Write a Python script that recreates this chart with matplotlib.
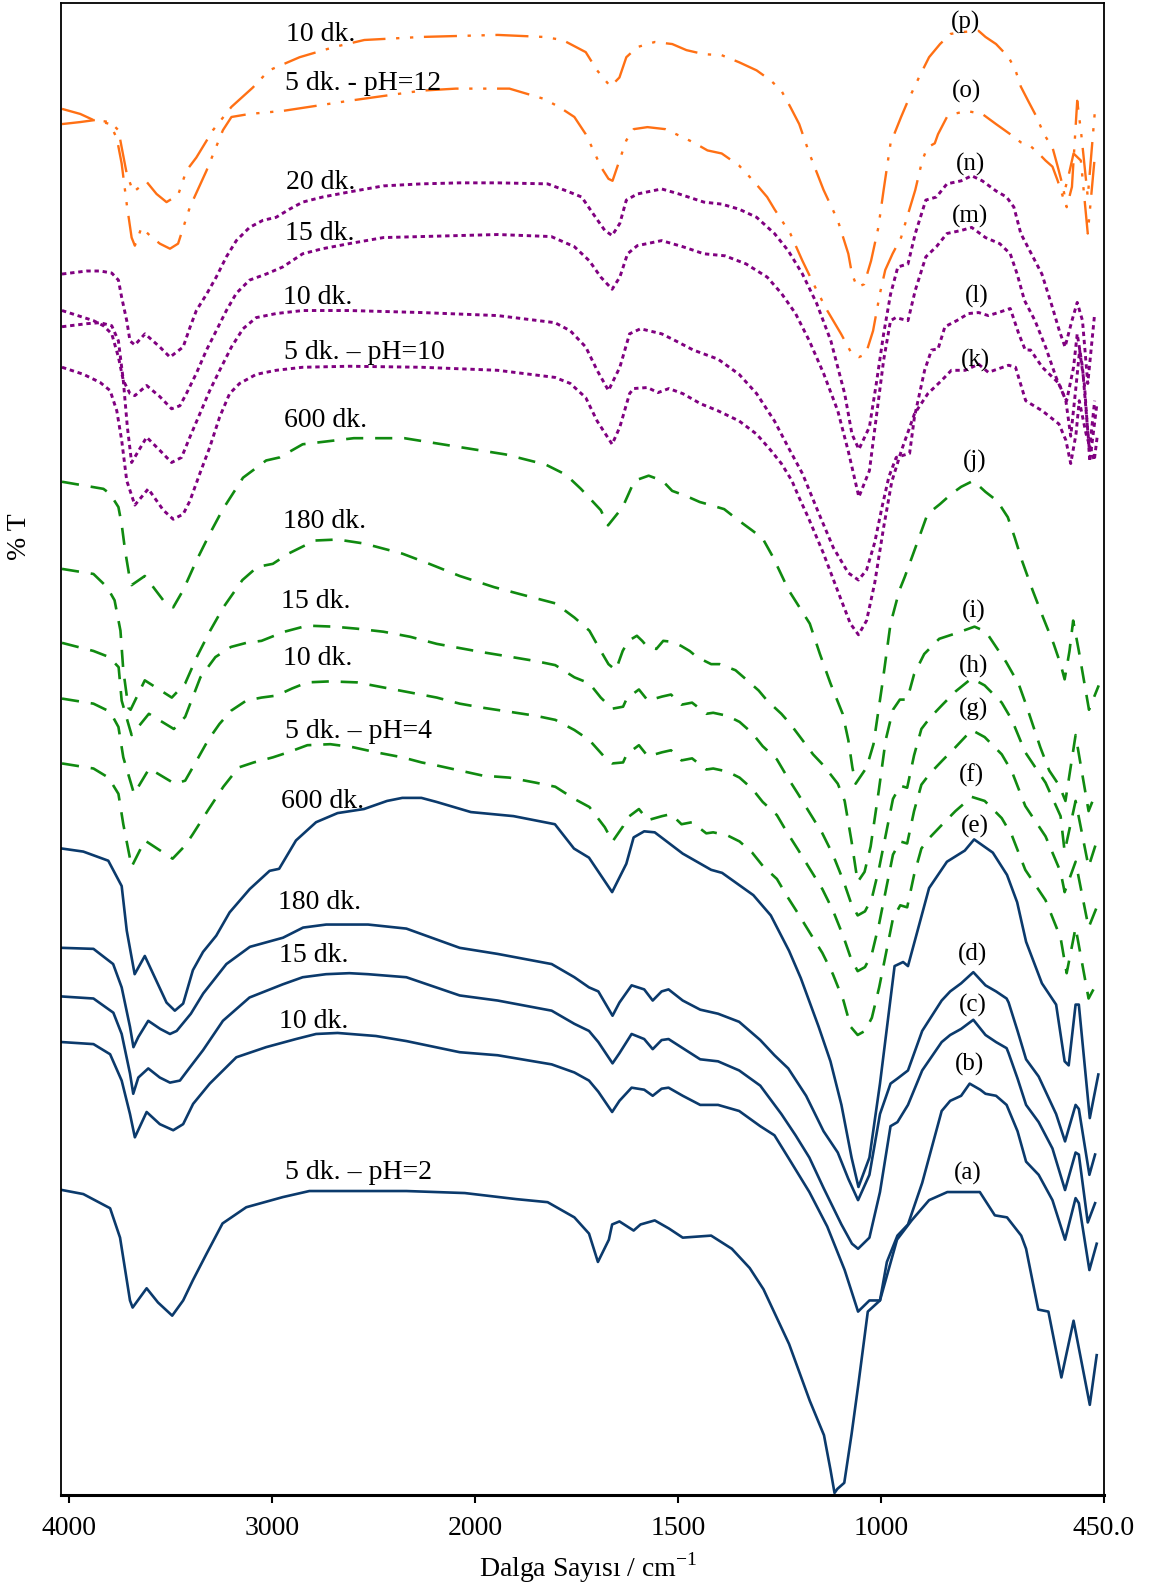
import numpy as np
import matplotlib
matplotlib.use('Agg')
import matplotlib.pyplot as plt
from matplotlib.ticker import NullLocator

plt.rcParams['font.family'] = ['Liberation Serif', 'DejaVu Serif']
plt.rcParams['mathtext.fontset'] = 'custom'
plt.rcParams['mathtext.rm'] = 'Liberation Serif'

# ---------------- data: wavenumber (cm-1) and offset %T (arbitrary units) ----------------
wn_a = [4035, 3930, 3798, 3749, 3700, 3687, 3618, 3562, 3492, 3438, 3390, 3323, 3244, 3127, 2947, 2816, 2619, 2338, 2050, 1898, 1821, 1755, 1719, 1697, 1670, 1662, 1644, 1609, 1592, 1557, 1522, 1488, 1418, 1367, 1323, 1289, 1226, 1175, 1140, 1124, 1114, 1107, 1090, 1072, 1055, 1032, 1002, 960, 924, 881, 836, 756, 719, 689, 654, 642, 612, 587, 555, 525, 485, 468]
t_a = [301, 297, 283, 254, 192, 185, 204, 190, 177, 192, 212, 238, 268, 284, 294, 300, 300, 300, 298, 292, 289, 274, 258, 230, 252, 267, 270, 261, 267, 271, 263, 254, 256, 243, 224, 203, 149, 93, 59, 25, 2, 6, 12, 60, 110, 181, 192, 252, 271, 291, 299, 299, 276, 274, 256, 243, 183, 181, 116, 172, 89, 138]

wn_b = [4035, 3880, 3798, 3741, 3700, 3676, 3618, 3553, 3487, 3438, 3389, 3307, 3176, 3029, 2882, 2783, 2677, 2488, 2338, 2075, 1944, 1811, 1755, 1719, 1696, 1662, 1644, 1614, 1583, 1562, 1540, 1523, 1488, 1445, 1401, 1349, 1297, 1262, 1228, 1176, 1132, 1089, 1056, 1028, 1002, 985, 959, 933, 898, 850, 829, 802, 781, 755, 742, 716, 690, 663, 642, 611, 577, 546, 520, 512, 486, 468]
t_b = [447, 445, 435, 409, 376, 353, 378, 366, 360, 366, 386, 406, 432, 442, 450, 455, 456, 453, 448, 437, 434, 425, 417, 409, 398, 378, 389, 402, 400, 394, 401, 402, 394, 385, 385, 379, 364, 355, 333, 299, 265, 222, 181, 192, 192, 230, 256, 267, 308, 379, 389, 394, 406, 400, 396, 394, 385, 359, 329, 316, 291, 252, 293, 288, 222, 248]

wn_c = [4035, 3880, 3782, 3741, 3700, 3684, 3659, 3610, 3553, 3503, 3454, 3405, 3340, 3242, 3111, 2947, 2849, 2734, 2619, 2527, 2338, 2075, 1944, 1811, 1755, 1719, 1696, 1661, 1644, 1614, 1583, 1562, 1540, 1523, 1488, 1445, 1401, 1349, 1297, 1245, 1210, 1176, 1141, 1097, 1071, 1056, 1028, 1002, 976, 959, 933, 898, 850, 829, 802, 772, 742, 716, 690, 685, 663, 642, 611, 577, 546, 520, 512, 490, 472]
t_c = [492, 490, 476, 455, 416, 396, 412, 421, 412, 407, 409, 422, 439, 468, 491, 504, 511, 514, 515, 514, 511, 493, 488, 478, 465, 458, 447, 426, 436, 455, 450, 440, 449, 450, 441, 430, 428, 419, 404, 376, 355, 333, 303, 267, 248, 243, 254, 299, 364, 368, 385, 419, 447, 454, 460, 469, 454, 447, 441, 436, 411, 385, 368, 342, 301, 338, 336, 269, 288]

wn_d = [4035, 3880, 3783, 3741, 3700, 3683, 3659, 3610, 3551, 3503, 3470, 3400, 3339, 3225, 3109, 2946, 2847, 2733, 2619, 2527, 2338, 2075, 1944, 1811, 1755, 1719, 1696, 1661, 1644, 1614, 1583, 1562, 1540, 1523, 1488, 1445, 1401, 1349, 1297, 1262, 1228, 1184, 1141, 1106, 1080, 1056, 1028, 1002, 976, 959, 933, 898, 850, 829, 802, 772, 742, 716, 690, 685, 663, 642, 611, 568, 546, 520, 512, 486, 472]
t_d = [540, 539, 524, 501, 462, 442, 452, 468, 460, 455, 458, 475, 495, 524, 541, 550, 560, 563, 563, 563, 559, 540, 534, 524, 511, 501, 497, 473, 486, 503, 499, 488, 497, 499, 488, 479, 475, 467, 449, 434, 421, 394, 359, 338, 312, 291, 316, 376, 406, 411, 419, 458, 488, 497, 505, 516, 503, 497, 490, 486, 458, 430, 413, 376, 349, 385, 381, 316, 336]

wn_e = [4035, 3930, 3807, 3741, 3716, 3677, 3627, 3520, 3479, 3438, 3390, 3340, 3275, 3209, 3110, 3012, 2965, 2882, 2783, 2677, 2547, 2433, 2358, 2264, 2189, 2020, 1905, 1803, 1756, 1719, 1662, 1627, 1609, 1583, 1557, 1488, 1418, 1391, 1314, 1271, 1226, 1197, 1153, 1124, 1097, 1072, 1055, 1028, 1002, 966, 945, 933, 881, 837, 793, 770, 724, 689, 664, 642, 603, 568, 547, 537, 520, 512, 485, 464]
t_e = [638, 635, 626, 601, 557, 514, 532, 486, 478, 485, 518, 536, 552, 575, 598, 616, 618, 646, 664, 673, 677, 685, 688, 688, 684, 674, 670, 662, 638, 629, 595, 623, 649, 655, 654, 633, 617, 614, 592, 572, 537, 510, 462, 428, 385, 333, 304, 333, 406, 522, 526, 522, 599, 625, 636, 647, 634, 612, 585, 546, 505, 484, 428, 424, 484, 484, 372, 415]

wn_f = [4035, 3880, 3806, 3757, 3733, 3692, 3627, 3490, 3428, 3391, 3315, 3240, 3165, 3090, 2996, 2920, 2826, 2713, 2601, 2488, 2357, 2263, 2188, 2075, 1981, 1915, 1850, 1802, 1755, 1718, 1680, 1661, 1635, 1626, 1596, 1574, 1539, 1517, 1491, 1465, 1430, 1413, 1378, 1348, 1317, 1291, 1256, 1231, 1204, 1178, 1144, 1118, 1092, 1074, 1057, 1039, 1022, 1004, 987, 970, 952, 935, 918, 900, 879, 848, 816, 776, 744, 702, 677, 644, 594, 557, 542, 520, 488, 468]
t_f = [722, 717, 708, 692, 662, 620, 646, 628, 641, 652, 676, 699, 718, 723, 728, 733, 740, 741, 738, 733, 728, 723, 720, 715, 710, 708, 703, 699, 687, 679, 659, 645, 660, 668, 677, 666, 670, 672, 662, 664, 653, 654, 651, 645, 634, 621, 608, 591, 574, 557, 535, 514, 488, 462, 454, 458, 471, 501, 535, 569, 582, 580, 612, 638, 649, 662, 675, 689, 685, 668, 651, 617, 587, 550, 515, 560, 490, 505]

wn_g = [4035, 3880, 3798, 3757, 3733, 3680, 3605, 3480, 3428, 3371, 3315, 3259, 3202, 3127, 3052, 2977, 2901, 2826, 2713, 2582, 2451, 2319, 2188, 2075, 1981, 1915, 1850, 1802, 1755, 1718, 1680, 1662, 1635, 1626, 1596, 1574, 1539, 1517, 1491, 1465, 1430, 1413, 1378, 1348, 1317, 1291, 1256, 1231, 1204, 1178, 1144, 1118, 1092, 1074, 1057, 1039, 1022, 1004, 987, 970, 952, 935, 918, 900, 879, 848, 816, 776, 744, 702, 677, 644, 594, 557, 547, 520, 488, 468]
t_g = [786, 781, 773, 758, 728, 692, 717, 702, 705, 725, 745, 761, 774, 784, 787, 789, 796, 802, 803, 802, 797, 792, 787, 781, 777, 773, 769, 765, 755, 745, 728, 722, 723, 731, 740, 729, 733, 735, 725, 727, 716, 717, 714, 708, 697, 684, 671, 654, 637, 620, 598, 577, 551, 530, 517, 521, 534, 564, 598, 632, 645, 643, 675, 701, 712, 725, 738, 755, 748, 731, 714, 680, 650, 615, 595, 625, 560, 580]

wn_h = [4035, 3880, 3803, 3756, 3741, 3708, 3692, 3607, 3484, 3428, 3353, 3279, 3202, 3127, 3052, 2939, 2826, 2695, 2582, 2451, 2319, 2188, 1985, 1924, 1850, 1802, 1755, 1718, 1690, 1662, 1635, 1626, 1596, 1574, 1539, 1517, 1491, 1465, 1430, 1413, 1378, 1348, 1317, 1291, 1256, 1231, 1204, 1178, 1144, 1118, 1092, 1074, 1057, 1039, 1022, 1004, 987, 970, 952, 935, 918, 900, 879, 848, 816, 776, 744, 702, 677, 644, 594, 557, 547, 520, 488, 468]
t_h = [841, 833, 827, 817, 784, 761, 750, 771, 756, 768, 807, 827, 837, 841, 843, 852, 858, 857, 855, 852, 847, 840, 832, 828, 823, 819, 807, 801, 787, 776, 778, 786, 795, 784, 788, 790, 780, 782, 771, 772, 769, 763, 752, 739, 726, 709, 692, 675, 653, 632, 606, 585, 572, 576, 589, 619, 653, 687, 700, 698, 730, 756, 767, 780, 793, 806, 799, 782, 765, 733, 703, 670, 635, 685, 620, 645]

wn_i = [4035, 3880, 3813, 3776, 3747, 3733, 3708, 3697, 3627, 3494, 3428, 3371, 3305, 3240, 3146, 3072, 2996, 2920, 2789, 2677, 2545, 2357, 2225, 2075, 1953, 1888, 1802, 1755, 1718, 1690, 1671, 1653, 1636, 1622, 1601, 1588, 1575, 1553, 1536, 1514, 1492, 1471, 1453, 1418, 1397, 1358, 1332, 1301, 1280, 1245, 1223, 1193, 1167, 1141, 1106, 1089, 1072, 1057, 1040, 1025, 1005, 988, 970, 953, 935, 918, 893, 856, 818, 769, 741, 716, 691, 674, 659, 642, 607, 585, 560, 545, 520, 488, 468]
t_i = [914, 909, 896, 883, 853, 814, 777, 775, 804, 787, 801, 827, 853, 876, 903, 916, 919, 929, 942, 943, 939, 929, 919, 907, 896, 889, 880, 866, 853, 833, 820, 814, 833, 843, 848, 843, 837, 835, 843, 842, 838, 833, 827, 820, 820, 814, 805, 794, 784, 771, 761, 745, 731, 720, 702, 685, 645, 605, 615, 640, 695, 745, 775, 785, 785, 810, 830, 845, 850, 857, 852, 837, 822, 810, 799, 780, 738, 715, 700, 685, 750, 675, 695]

wn_j = [4035, 3831, 3798, 3757, 3741, 3724, 3700, 3692, 3627, 3536, 3487, 3438, 3373, 3306, 3242, 3143, 3029, 2963, 2849, 2597, 2348, 2100, 1925, 1826, 1776, 1739, 1690, 1672, 1636, 1607, 1572, 1538, 1514, 1480, 1446, 1428, 1386, 1351, 1317, 1291, 1266, 1227, 1175, 1150, 1124, 1094, 1080, 1070, 1062, 1035, 1018, 996, 976, 954, 941, 911, 885, 854, 826, 802, 772, 742, 713, 687, 670, 652, 626, 600, 574, 557, 547, 535, 526, 512, 487, 463]
t_j = [1000, 993, 988, 975, 958, 932, 903, 898, 907, 883, 876, 893, 922, 949, 973, 1004, 1021, 1024, 1037, 1043, 1043, 1035, 1027, 1017, 1007, 993, 972, 957, 975, 1001, 1006, 1001, 991, 986, 980, 978, 973, 962, 952, 944, 926, 893, 860, 830, 801, 771, 745, 718, 702, 718, 741, 801, 860, 893, 906, 939, 968, 978, 988, 995, 1001, 990, 981, 965, 945, 922, 893, 866, 840, 820, 805, 833, 863, 833, 775, 799]

wn_k = [4035, 3929, 3847, 3798, 3765, 3741, 3716, 3676, 3610, 3536, 3487, 3438, 3405, 3356, 3307, 3258, 3209, 3160, 3078, 2980, 2849, 2620, 2263, 1944, 1803, 1765, 1727, 1699, 1662, 1643, 1619, 1609, 1575, 1549, 1522, 1488, 1444, 1401, 1349, 1306, 1271, 1245, 1219, 1202, 1179, 1142, 1104, 1075, 1055, 1035, 1015, 993, 973, 949, 917, 884, 850, 826, 792, 759, 735, 685, 668, 643, 631, 602, 561, 544, 532, 519, 511, 494, 474, 466]
t_k = [1113, 1106, 1098, 1090, 1070, 1041, 1001, 977, 993, 972, 963, 968, 981, 1008, 1034, 1064, 1087, 1097, 1106, 1110, 1113, 1114, 1113, 1110, 1103, 1097, 1083, 1060, 1037, 1054, 1087, 1092, 1093, 1088, 1092, 1087, 1077, 1070, 1060, 1047, 1031, 1018, 1001, 985, 965, 930, 890, 860, 849, 863, 900, 955, 1000, 1031, 1067, 1087, 1100, 1110, 1110, 1116, 1108, 1115, 1113, 1080, 1077, 1070, 1057, 1041, 1018, 1047, 1080, 1047, 1021, 1047]

wn_l = [4035, 3913, 3847, 3790, 3757, 3733, 3713, 3692, 3618, 3553, 3495, 3446, 3405, 3356, 3307, 3258, 3200, 3143, 3078, 2980, 2849, 2620, 2263, 1944, 1803, 1765, 1727, 1699, 1671, 1643, 1619, 1592, 1540, 1505, 1462, 1401, 1349, 1306, 1262, 1228, 1193, 1154, 1117, 1080, 1055, 1035, 1015, 997, 980, 962, 929, 917, 892, 875, 859, 842, 813, 784, 759, 735, 710, 681, 660, 644, 631, 602, 561, 544, 532, 520, 510, 498, 485, 468]
t_l = [1153, 1156, 1157, 1154, 1139, 1100, 1054, 1019, 1044, 1031, 1019, 1024, 1044, 1067, 1090, 1110, 1133, 1151, 1162, 1166, 1169, 1169, 1167, 1164, 1157, 1149, 1133, 1110, 1090, 1113, 1146, 1151, 1146, 1139, 1130, 1121, 1106, 1087, 1060, 1034, 1008, 970, 935, 910, 903, 913, 940, 975, 1005, 1024, 1028, 1064, 1110, 1130, 1131, 1153, 1159, 1166, 1167, 1164, 1167, 1171, 1146, 1130, 1130, 1113, 1097, 1080, 1045, 1090, 1130, 1095, 1020, 1075]

wn_m = [4035, 3880, 3831, 3790, 3757, 3733, 3700, 3676, 3618, 3553, 3495, 3454, 3422, 3373, 3323, 3275, 3225, 3176, 3111, 3029, 2947, 2849, 2751, 2620, 2451, 2263, 2075, 1944, 1812, 1755, 1718, 1690, 1662, 1643, 1624, 1600, 1540, 1488, 1436, 1384, 1332, 1280, 1245, 1210, 1176, 1141, 1106, 1080, 1054, 1028, 1011, 993, 976, 963, 933, 915, 889, 863, 837, 802, 776, 742, 707, 681, 664, 646, 620, 594, 568, 551, 542, 525, 516, 503, 486, 473]
t_m = [1169, 1159, 1154, 1146, 1123, 1100, 1087, 1085, 1095, 1084, 1072, 1075, 1087, 1107, 1130, 1149, 1169, 1186, 1199, 1205, 1212, 1225, 1230, 1235, 1241, 1242, 1243, 1244, 1242, 1232, 1218, 1202, 1190, 1202, 1225, 1233, 1238, 1232, 1225, 1223, 1215, 1202, 1186, 1166, 1139, 1107, 1070, 1030, 985, 1011, 1064, 1120, 1159, 1162, 1159, 1189, 1222, 1232, 1245, 1248, 1251, 1241, 1235, 1225, 1205, 1179, 1159, 1133, 1103, 1087, 1080, 1113, 1146, 1113, 1031, 1080]

wn_n = [4035, 3913, 3847, 3790, 3757, 3741, 3716, 3700, 3676, 3626, 3553, 3503, 3438, 3405, 3373, 3323, 3275, 3225, 3176, 3111, 3045, 2980, 2914, 2849, 2751, 2620, 2451, 2263, 2075, 1944, 1821, 1774, 1737, 1708, 1680, 1662, 1643, 1627, 1600, 1540, 1497, 1436, 1392, 1349, 1306, 1262, 1228, 1193, 1158, 1123, 1089, 1071, 1054, 1028, 1011, 993, 976, 958, 933, 915, 889, 863, 837, 802, 776, 750, 716, 690, 672, 655, 629, 603, 577, 560, 546, 529, 516, 503, 490, 473]
t_n = [1205, 1208, 1208, 1206, 1199, 1182, 1159, 1139, 1135, 1146, 1133, 1123, 1133, 1152, 1169, 1185, 1202, 1222, 1238, 1251, 1258, 1261, 1269, 1276, 1281, 1286, 1292, 1294, 1295, 1295, 1294, 1287, 1281, 1264, 1248, 1243, 1255, 1278, 1284, 1289, 1284, 1276, 1274, 1269, 1261, 1245, 1228, 1205, 1176, 1139, 1087, 1047, 1032, 1054, 1097, 1146, 1185, 1212, 1215, 1245, 1278, 1281, 1294, 1297, 1302, 1297, 1287, 1281, 1271, 1245, 1225, 1205, 1172, 1149, 1133, 1159, 1177, 1159, 1097, 1166]

wn_o = [4035, 3945, 3872, 3798, 3765, 3741, 3716, 3692, 3676, 3643, 3602, 3553, 3503, 3463, 3405, 3323, 3242, 3200, 3111, 2947, 2783, 2620, 2263, 2094, 1962, 1915, 1831, 1793, 1755, 1727, 1708, 1690, 1671, 1661, 1644, 1627, 1609, 1575, 1531, 1488, 1462, 1427, 1392, 1349, 1314, 1280, 1262, 1223, 1193, 1158, 1132, 1098, 1071, 1054, 1037, 1019, 1002, 989, 971, 950, 933, 915, 898, 885, 867, 859, 837, 820, 789, 750, 716, 681, 655, 633, 611, 594, 577, 564, 551, 538, 525, 507, 490, 472]
t_o = [1353, 1355, 1357, 1353, 1339, 1314, 1274, 1241, 1233, 1251, 1243, 1235, 1230, 1235, 1271, 1307, 1347, 1360, 1363, 1366, 1371, 1376, 1386, 1388, 1388, 1388, 1378, 1370, 1360, 1343, 1327, 1311, 1299, 1297, 1317, 1337, 1348, 1350, 1348, 1340, 1335, 1327, 1324, 1312, 1297, 1281, 1269, 1245, 1218, 1189, 1169, 1146, 1126, 1123, 1126, 1149, 1186, 1209, 1225, 1241, 1264, 1288, 1317, 1330, 1334, 1343, 1360, 1363, 1366, 1363, 1353, 1343, 1335, 1332, 1324, 1317, 1311, 1297, 1281, 1301, 1324, 1317, 1245, 1324]

wn_p = [4035, 3945, 3880, 3798, 3757, 3741, 3716, 3684, 3618, 3569, 3520, 3463, 3422, 3373, 3291, 3200, 3095, 3015, 2864, 2695, 2545, 2263, 1944, 1831, 1784, 1727, 1699, 1666, 1644, 1627, 1600, 1557, 1514, 1479, 1436, 1392, 1349, 1306, 1271, 1245, 1223, 1201, 1176, 1141, 1106, 1080, 1071, 1058, 1041, 1024, 1006, 993, 976, 950, 933, 906, 881, 854, 828, 794, 759, 742, 716, 685, 668, 655, 637, 616, 598, 577, 564, 551, 542, 529, 516, 506, 490, 473]
t_p = [1368, 1363, 1357, 1355, 1347, 1330, 1304, 1286, 1296, 1284, 1276, 1283, 1307, 1320, 1347, 1370, 1389, 1406, 1419, 1429, 1436, 1439, 1441, 1439, 1436, 1424, 1406, 1390, 1399, 1419, 1429, 1434, 1432, 1426, 1422, 1421, 1414, 1406, 1396, 1386, 1370, 1353, 1324, 1288, 1258, 1225, 1205, 1192, 1195, 1218, 1251, 1288, 1334, 1360, 1376, 1399, 1419, 1432, 1442, 1444, 1445, 1439, 1432, 1419, 1406, 1390, 1376, 1360, 1343, 1330, 1311, 1291, 1271, 1291, 1376, 1343, 1281, 1363]

letters = ['(a)', '(b)', '(c)', '(d)', '(e)', '(f)', '(g)', '(h)', '(i)', '(j)', '(k)', '(l)', '(m)', '(n)', '(o)', '(p)']
times = ['5 dk. \u2013 pH=2', '10 dk.', '15 dk.', '180 dk.', '600 dk.',
         '5 dk. \u2013 pH=4', '10 dk.', '15 dk.', '180 dk.', '600 dk.',
         '5 dk. \u2013 pH=10', '10 dk.', '15 dk.', '20 dk.',
         '5 dk. - pH=12', '10 dk.']
tick_vals = [4000, 3000, 2000, 1500, 1000, 450]
tick_labels = ['4000', '3000', '2000', '1500', '1000', '450.0']

series = [(wn_a, t_a), (wn_b, t_b), (wn_c, t_c), (wn_d, t_d), (wn_e, t_e),
          (wn_f, t_f), (wn_g, t_g), (wn_h, t_h), (wn_i, t_i), (wn_j, t_j),
          (wn_k, t_k), (wn_l, t_l), (wn_m, t_m), (wn_n, t_n),
          (wn_o, t_o), (wn_p, t_p)]

# ---------------- styles ----------------
NAVY, GREEN, PURPLE, ORANGE = '#0b3a6c', '#108a10', '#800080', '#ff7014'
style_navy = dict(color=NAVY, lw=1.9, linestyle='-')
style_green = dict(color=GREEN, lw=1.9, linestyle=(0, (6.5, 4.5)))
style_purple = dict(color=PURPLE, lw=2.1, linestyle=(0, (1.5, 1.3)))
style_orange = dict(color=ORANGE, lw=1.7, linestyle=(0, (14, 4.5, 1.4, 4.5, 1.4, 4.5)))
styles = [style_navy] * 5 + [style_green] * 5 + [style_purple] * 4 + [style_orange] * 2

# label placement (wavenumber, offset value)
time_pos = [(2935, 312), (2965, 461), (2965, 526), (2970, 578), (2955, 678),
            (2935, 747), (2945, 819), (2955, 875), (2945, 954), (2940, 1054),
            (2940, 1121), (2945, 1175), (2935, 1239), (2930, 1289),
            (2935, 1387), (2930, 1435)]
letter_pos = [(786, 317), (781, 425), (774, 483), (774, 533), (769, 660),
              (776, 710), (771, 775), (771, 818), (771, 872), (769, 1020),
              (766, 1120), (764, 1183), (779, 1262), (779, 1313),
              (789, 1385), (791, 1453)]


def fwd(w):
    w = np.asarray(w, dtype=float)
    return np.where(w <= 2000, w, 2000 + (w - 2000) / 2.0)


def inv(u):
    u = np.asarray(u, dtype=float)
    return np.where(u <= 2000, u, 2000 + (u - 2000) * 2.0)


W, H = 1155, 1589
fig = plt.figure(figsize=(W / 100, H / 100), dpi=100)
ax = fig.add_axes([61 / W, 94 / H, (1104 - 61) / W, (1495 - 3) / H])
ax.set_xscale('function', functions=(fwd, inv))
ax.set_xlim(4040, 450)
ax.set_ylim(0, 1472.5)

for (wn, t), st in zip(series, styles):
    ax.plot(wn, t, **st)

for txt, (x, y) in zip(times, time_pos):
    ax.text(x, y, txt, fontsize=20, ha='left', va='baseline', color='black')
for txt, (x, y) in zip(letters, letter_pos):
    ax.text(x, y, txt, fontsize=18, ha='center', va='center', color='black')

ax.set_xticks(tick_vals)
ax.set_xticklabels(tick_labels)
ax.xaxis.set_minor_locator(NullLocator())
ax.set_yticks([])
ax.tick_params(axis='x', direction='out', length=6, width=1.5, labelsize=20, pad=9)
for s in ['left', 'top', 'right']:
    ax.spines[s].set_linewidth(1.3)
ax.spines['bottom'].set_linewidth(2.2)

fig.text(588 / W, 1 - 1568 / H, 'Dalga Say\u0131s\u0131 / cm$^{\\mathregular{-1}}$',
         fontsize=20, ha='center', va='center')
fig.text(20 / W, 1 - 537 / H, '% T', fontsize=20, rotation=90, ha='center', va='center')

fig.savefig('out.png', dpi=100)
